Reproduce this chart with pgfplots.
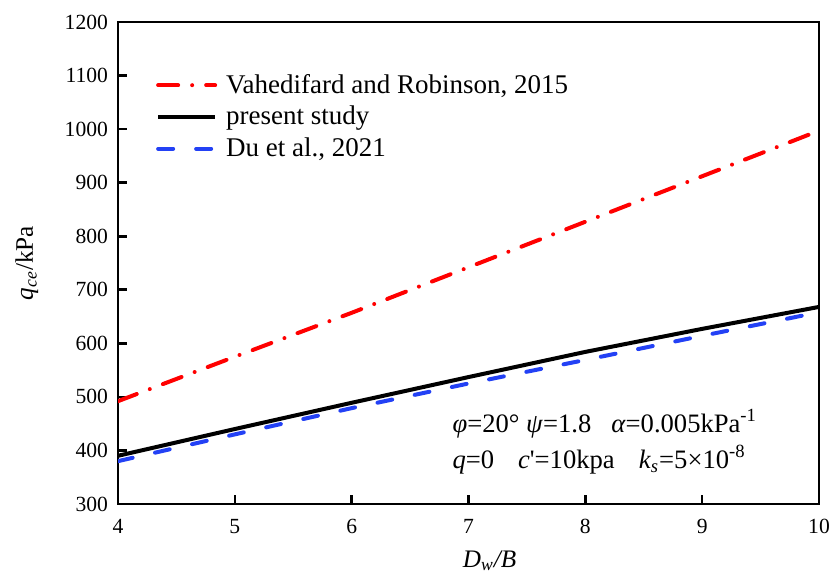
\documentclass[border=0pt]{standalone}
\usepackage{fontspec}
\setmainfont{Liberation Serif}
\usepackage{pgfplots}
\pgfplotsset{compat=1.18}
\definecolor{myred}{RGB}{255,0,0}
\definecolor{myblue}{RGB}{35,65,245}
\begin{document}
\begin{tikzpicture}
\begin{axis}[
  name=ax,
  scale only axis,
  width=350.5pt, height=241pt,
  xmin=4, xmax=10, ymin=300, ymax=1200,
  xtick={4,5,...,10}, ytick={300,400,...,1200},
  tick align=inside, xtick pos=bottom, ytick pos=left,
  major tick length=4.5pt,
  axis line style={line width=1.3pt},
  every tick/.style={line width=1.3pt, black},
  /pgf/number format/assume math mode=true,
  /pgf/number format/1000 sep={},
  xticklabel={\rmfamily\pgfmathprintnumber{\tick}},
  yticklabel={\rmfamily\pgfmathprintnumber{\tick}},
  ticklabel style={font=\fontsize{10.8}{12}\selectfont},
  xticklabel style={yshift=-4pt},
  yticklabel style={xshift=-1.5pt},
  xlabel={\textit{D}\textsubscript{\textit{w}}\textit{/B}},
  ylabel={\textit{q}\textsubscript{\textit{ce}}/kPa},
  label style={font=\fontsize{12.6}{14}\selectfont},
  xlabel style={at={(axis description cs:0.53,-0.082)}, anchor=north},
  ylabel style={at={(axis description cs:-0.13,0.5)}, anchor=center, rotate=0},
  legend style={draw=none, fill=none, at={(axis description cs:0.051,0.905)}, anchor=north west,
    font=\fontsize{13.5}{15.5}\selectfont, row sep=1pt, inner sep=1pt},
  legend cell align=left,
  legend image code/.code={\draw[#1] (0pt,0pt) -- (28.5pt,0pt); \path (31pt,0pt);},
]
\addplot[myred, line width=2pt, line cap=round, dash pattern=on 10pt off 7pt on 0pt off 7pt]
  coordinates {(4,492) (5,575) (6,657) (7,742) (8,827) (9,912) (10,997)};
\addlegendentry{Vahedifard and Robinson, 2015}
\addplot[black, line width=2pt]
  coordinates {(4,390) (5,440) (6,489) (7,537) (8,584) (9,627) (10,668)};
\addlegendentry{present study}
\addplot[myblue, line width=2pt, line cap=round, dash pattern=on 7.5pt off 11.5pt]
  coordinates {(4,380) (5,430) (6,479) (7,525) (8,569) (9,614) (10,658)};
\addlegendentry{Du et al., 2021}
\node[anchor=base west, inner sep=0pt, font=\fontsize{13.3}{16}\selectfont] at (axis cs:6.86,434.4)
  {\textit{φ}=20° \textit{ψ}=1.8\hspace{10pt}\textit{α}=0.005kPa\textsuperscript{-1}};
\node[anchor=base west, inner sep=0pt, font=\fontsize{13.3}{16}\selectfont] at (axis cs:6.86,367)
  {\textit{q}=0\hspace{12pt}\textit{c}\textquotesingle=10kpa\hspace{12pt}\textit{k}\textsubscript{\textit{s}}=5×10\textsuperscript{-8}};
\coordinate (bl) at (rel axis cs:0,0);
\coordinate (tr) at (rel axis cs:1,1);
\end{axis}
\pgfresetboundingbox
\path[use as bounding box] ([xshift=-59pt,yshift=-36pt]bl) rectangle ([xshift=8pt,yshift=11pt]tr);
\end{tikzpicture}
\end{document}
